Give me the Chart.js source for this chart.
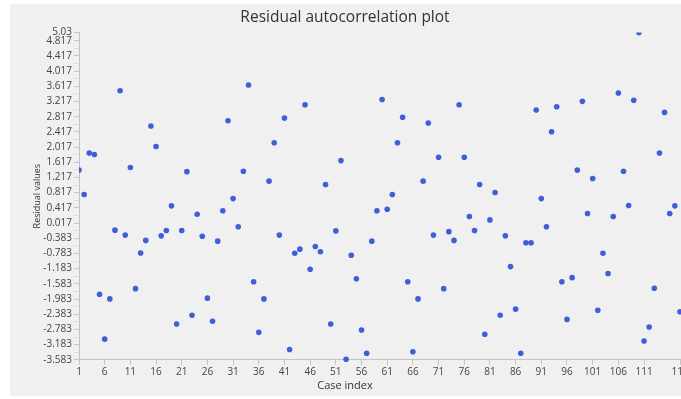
<!DOCTYPE html>
<html>
<head>
<meta charset="utf-8">
<script src="https://cdn.jsdelivr.net/npm/chart.js@4.4.1/dist/chart.umd.min.js"></script>
<style>
  html, body { margin: 0; padding: 0; background: #ffffff; overflow: hidden; width: 681px; height: 399px; }
  #panel { position: absolute; left: 10px; top: 4px; width: 680px; height: 392px; background: #f0f0f0; }
  canvas { display: block; }
</style>
</head>
<body>
<div id="panel"><canvas id="residualChart" width="680" height="392"></canvas></div>
<script>
// case index (x) and residual value (y) for each point
const caseIndex = [
  1, 2, 3, 4, 5, 6, 7, 8, 9, 10, 11, 12, 13, 14, 15, 16, 17, 18, 19, 20,
  21, 22, 23, 24, 25, 26, 27, 28, 29, 30, 31, 32, 33, 34, 35, 36, 37, 38, 39, 40,
  41, 42, 43, 44, 45, 46, 47, 48, 49, 50, 51, 52, 53, 54, 55, 56, 57, 58, 59, 60,
  61, 62, 63, 64, 65, 66, 67, 68, 69, 70, 71, 72, 73, 74, 75, 76, 77, 78, 79, 80,
  81, 82, 83, 84, 85, 86, 87, 88, 89, 90, 91, 92, 93, 94, 95, 96, 97, 98, 99, 100,
  101, 102, 103, 104, 105, 106, 107, 108, 109, 110, 111, 112, 113, 114, 115, 116, 117, 118
];
const residuals = [
  1.41, 0.77, 1.86, 1.82, -1.86, -3.04, -1.98, -0.17, 3.50, -0.30,
  1.48, -1.71, -0.77, -0.44, 2.57, 2.03, -0.32, -0.18, 0.47, -2.64,
  -0.18, 1.37, -2.41, 0.25, -0.33, -1.96, -2.57, -0.46, 0.34, 2.71,
  0.66, -0.08, 1.38, 3.65, -1.53, -2.86, -1.98, 1.12, 2.13, -0.30,
  2.78, -3.31, -0.78, -0.67, 3.13, -1.20, -0.60, -0.74, 1.03, -2.64,
  -0.19, 1.66, -3.57, -0.83, -1.45, -2.80, -3.41, -0.46, 0.34, 3.27,
  0.38, 0.77, 2.13, 2.80, -1.53, -3.37, -1.98, 1.12, 2.65, -0.30,
  1.75, -1.71, -0.21, -0.44, 3.13, 1.75, 0.19, -0.18, 1.03, -2.91,
  0.10, 0.82, -2.41, -0.32, -1.13, -2.25, -3.41, -0.50, -0.50, 2.99,
  0.66, -0.08, 2.42, 3.08, -1.53, -2.52, -1.42, 1.41, 3.22, 0.27,
  1.19, -2.28, -0.78, -1.31, 0.19, 3.44, 1.38, 0.48, 3.25, 5.03,
  -3.09, -2.72, -1.70, 1.86, 2.93, 0.27, 0.47, -2.32
];
const xTickLabels = [1, 6, 11, 16, 21, 26, 31, 36, 41, 46, 51, 56, 61, 66, 71, 76, 81, 86, 91, 96, 101, 106, 111, 118];
const yTickLabels = [
  -3.583, -3.183, -2.783, -2.383, -1.983, -1.583, -1.183, -0.783, -0.383, 0.017,
  0.417, 0.817, 1.217, 1.617, 2.017, 2.417, 2.817, 3.217, 3.617, 4.017, 4.417, 4.817, 5.03
];

var points = caseIndex.map(function (c, i) { return { x: c, y: residuals[i] }; });

var axisColor = '#c4c4c4';
var tickFont = { family: 'Open Sans', size: 10 };

var settingsResidual = {
  type: 'scatter',
  data: {
    datasets: [{
      label: 'Residual values',
      data: points,
      backgroundColor: '#3f5fd8',
      borderWidth: 0,
      pointRadius: 2.8,
      pointHoverRadius: 3.5,
      clip: { left: 0, top: 0, right: 6, bottom: 6 }
    }]
  },
  options: {
    responsive: false,
    animation: false,
    layout: { padding: { left: 0, right: 10, top: 0, bottom: 0 } },
    plugins: {
      legend: { display: false },
      title: {
        display: true,
        text: 'Residual autocorrelation plot',
        color: '#333333',
        font: { family: 'Open Sans', size: 15.5, weight: 'normal' },
        padding: { top: 4, bottom: 6 }
      },
      subtitle: {
        display: true,
        position: 'bottom',
        text: 'Case index',
        color: '#333333',
        font: { family: 'Open Sans', size: 11 },
        padding: { top: 0, bottom: 4 }
      }
    },
    scales: {
      x: {
        type: 'linear',
        min: 1,
        max: 118,
        afterBuildTicks: function (scale) {
          scale.ticks = xTickLabels.map(function (v) { return { value: v }; });
        },
        ticks: {
          color: '#444444',
          font: tickFont,
          padding: 1,
          maxRotation: 0,
          autoSkip: false,
          callback: function (value) { return String(value); }
        },
        grid: { drawOnChartArea: false, drawTicks: true, tickLength: 5, color: axisColor },
        border: { color: axisColor }
      },
      y: {
        type: 'linear',
        min: -3.583,
        max: 5.03,
        afterBuildTicks: function (scale) {
          var t = [];
          yTickLabels.forEach(function (v, i) {
            t.push({ value: v });
            if (i < yTickLabels.length - 2) t.push({ value: v + 0.2 });
          });
          scale.ticks = t;
        },
        afterFit: function (scale) { scale.width = 69; },
        ticks: {
          color: '#444444',
          font: tickFont,
          padding: 2,
          autoSkip: false,
          callback: function (value) {
            return yTickLabels.indexOf(value) >= 0 ? String(value) : '';
          }
        },
        grid: {
          drawOnChartArea: false,
          drawTicks: true,
          tickLength: 5,
          color: function (c) {
            return c.tick && yTickLabels.indexOf(c.tick.value) < 0 ? '#dcdcdc' : axisColor;
          }
        },
        border: { color: axisColor },
        title: {
          display: true,
          text: 'Residual values',
          color: '#333333',
          font: { family: 'Open Sans', size: 9 },
          padding: { top: 21.6, bottom: 0 }
        }
      }
    }
  }
};

var ctxResidual = document.getElementById('residualChart').getContext('2d');
var residualChart = new Chart(ctxResidual, settingsResidual);
</script>
</body>
</html>
